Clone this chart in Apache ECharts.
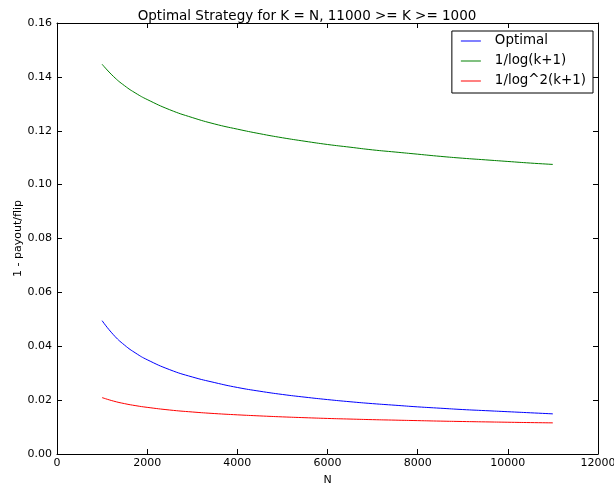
<!DOCTYPE html>
<html>
<head>
<meta charset="utf-8">
<script src="https://cdn.jsdelivr.net/npm/echarts@6/dist/echarts.min.js"></script>
<style>
  html, body { margin: 0; padding: 0; background: #fff; }
  #chart { width: 614px; height: 484px; }
</style>
</head>
<body>
<div id="chart"></div>
<script>
// values
var nValues = [1000, 1250, 1500, 1750, 2000, 2500, 3000, 3500, 4000, 4500, 5000,
  5500, 6000, 6500, 7000, 7500, 8000, 8500, 9000, 9500, 10000, 10500, 11000];
var optimal = [0.0495, 0.0443, 0.0404, 0.0374, 0.0350, 0.0313, 0.0286, 0.0265, 0.0247, 0.0233, 0.0221,
  0.0211, 0.0202, 0.0194, 0.0187, 0.0181, 0.0175, 0.0170, 0.0165, 0.0161, 0.0157, 0.0153, 0.0149];
var invLog = [0.1447, 0.1402, 0.1367, 0.1339, 0.1316, 0.1278, 0.1249, 0.1225, 0.1206, 0.1189, 0.1174,
  0.1161, 0.1149, 0.1139, 0.1129, 0.1121, 0.1113, 0.1105, 0.1098, 0.1092, 0.1086, 0.1080, 0.1075];
var invLog2 = [0.02094, 0.01966, 0.01869, 0.01793, 0.01732, 0.01633, 0.01560, 0.01501, 0.01454, 0.01414, 0.01378,
  0.01348, 0.01320, 0.01297, 0.01275, 0.01257, 0.01239, 0.01221, 0.01206, 0.01192, 0.01179, 0.01166, 0.01156];
var seriesNames = ["Optimal", "1/log(k+1)", "1/log^2(k+1)"];
var colors = ["#0000ff", "#008000", "#ff0000"];

function pairs(ys) {
  return nValues.map(function (n, i) { return [n, ys[i]]; });
}

function makeSeries(i, ys) {
  return {
    name: seriesNames[i],
    type: "line",
    data: pairs(ys),
    smooth: true,
    showSymbol: false,
    itemStyle: { color: colors[i] },
    lineStyle: { color: colors[i], width: 1 }
  };
}

var font = "DejaVu Sans";
var tick = { show: true, inside: true, length: 5, lineStyle: { color: "#000" } };
var line = { show: true, onZero: false, lineStyle: { color: "#000", width: 1 } };

var chart = echarts.init(document.getElementById("chart"));
var option = {
  animation: false,
  backgroundColor: "#fff",
  color: colors,
  textStyle: { fontFamily: font },
  title: {
    text: "Optimal Strategy for K = N, 11000 >= K >= 1000",
    left: "center",
    top: 4,
    textStyle: { fontFamily: font, fontSize: 13.5, fontWeight: "normal", color: "#000" }
  },
  grid: { left: 57, right: 16, top: 23, bottom: 30, outerBoundsMode: "none" },
  legend: {
    orient: "vertical",
    right: 21,
    top: 31,
    padding: [3, 7, 5, 9],
    itemGap: 6,
    borderColor: "#000",
    borderWidth: 1,
    borderRadius: 0,
    icon: "rect",
    itemWidth: 20,
    itemHeight: 1,
    textStyle: { fontFamily: font, fontSize: 13.4, lineHeight: 14, color: "#000", padding: [0, 0, 0, 9] },
    data: seriesNames.map(function (name, i) {
      return { name: name, itemStyle: { color: colors[i], borderWidth: 0 } };
    })
  },
  xAxis: [
    {
      type: "value", min: 0, max: 12000, interval: 2000,
      name: "N", nameLocation: "middle", nameGap: 21,
      nameTextStyle: { fontFamily: font, fontSize: 11, color: "#000", verticalAlign: "top" },
      axisLine: line, axisTick: tick, splitLine: { show: false },
      axisLabel: {
        fontFamily: font, fontSize: 11, color: "#000", margin: 4,
        formatter: function (v) { return String(v); }
      }
    },
    {
      type: "value", position: "top", min: 0, max: 12000, interval: 2000,
      axisLine: line, axisTick: tick, splitLine: { show: false },
      axisLabel: { show: false }
    }
  ],
  yAxis: [
    {
      type: "value", min: 0, max: 0.16, interval: 0.02,
      name: "1 - payout/flip", nameLocation: "middle", nameGap: 33, nameRotate: 90,
      nameMoveOverlap: false,
      nameTextStyle: { fontFamily: font, fontSize: 11, color: "#000" },
      axisLine: line, axisTick: tick, splitLine: { show: false },
      axisLabel: {
        fontFamily: font, fontSize: 11, color: "#000", margin: 5,
        formatter: function (v) { return v.toFixed(2); }
      }
    },
    {
      type: "value", position: "right", min: 0, max: 0.16, interval: 0.02,
      axisLine: line, axisTick: tick, splitLine: { show: false },
      axisLabel: { show: false }
    }
  ],
  series: [
    makeSeries(0, optimal),
    makeSeries(1, invLog),
    makeSeries(2, invLog2)
  ]
};
chart.setOption(option);
</script>
</body>
</html>
